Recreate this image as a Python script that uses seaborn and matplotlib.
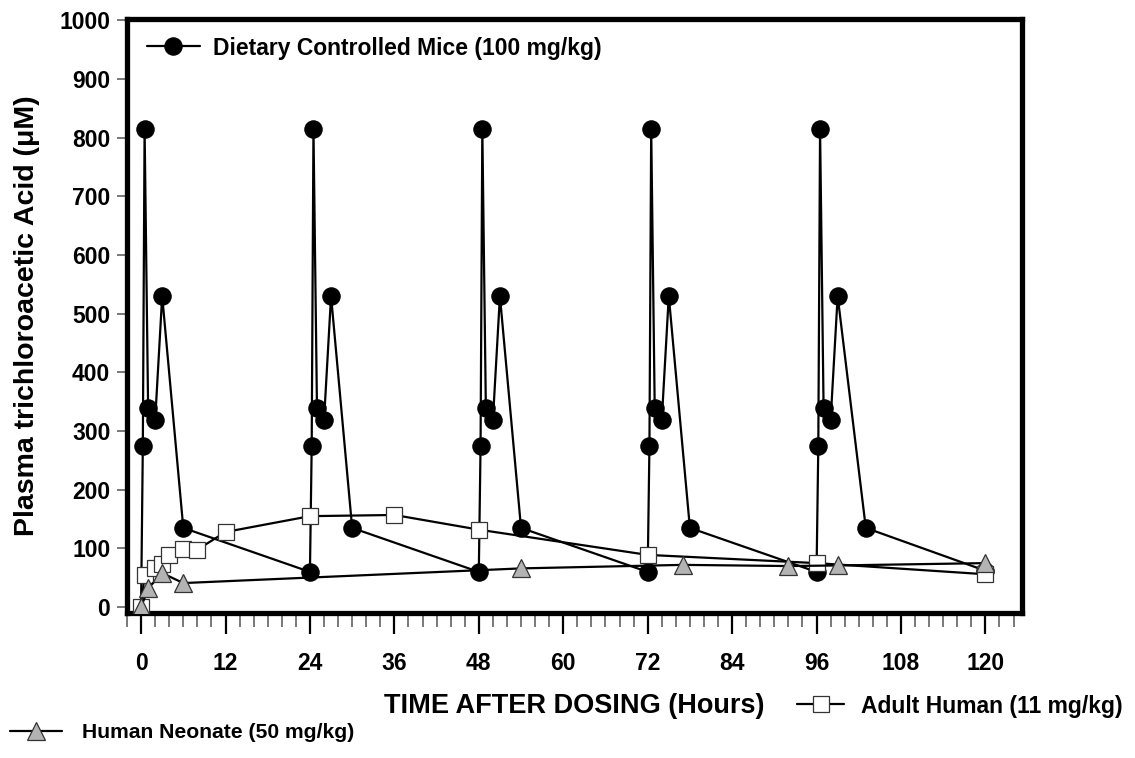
import matplotlib
matplotlib.use("Agg")
import matplotlib.pyplot as plt
import seaborn as sns
import pandas as pd
from matplotlib.ticker import MultipleLocator

# Plasma TCA time courses (hours, µM)
mouse_time = [0, 0.25, 0.5, 1, 2, 3, 6,
              24, 24.25, 24.5, 25, 26, 27, 30,
              48, 48.25, 48.5, 49, 50, 51, 54,
              72, 72.25, 72.5, 73, 74, 75, 78,
              96, 96.25, 96.5, 97, 98, 99, 103,
              120]
mouse_tca = [0, 275, 815, 340, 318, 530, 135,
             60, 275, 815, 340, 318, 530, 135,
             60, 275, 815, 340, 318, 530, 135,
             60, 275, 815, 340, 318, 530, 135,
             60, 275, 815, 340, 318, 530, 135,
             62]

adult_time = [0, 0.5, 2, 3, 4, 6, 8, 12, 24, 36, 48, 72, 96, 120]
adult_tca = [0, 55, 66, 73, 89, 99, 98, 128, 155, 157, 132, 89, 75, 56]

neonate_time = [0, 1, 3, 6, 54, 77, 92, 99, 120]
neonate_tca = [0, 32, 58, 41, 66, 72, 70, 71, 75]

mouse_label = "Dietary Controlled Mice (100 mg/kg)"
neonate_label = "Human Neonate (50 mg/kg)"
adult_label = "Adult Human (11 mg/kg)"

sns.set_theme(style="white")
plt.rcParams["font.family"] = ["Liberation Sans", "DejaVu Sans"]
plt.rcParams["font.weight"] = "bold"
plt.rcParams["text.color"] = "black"
plt.rcParams["axes.labelcolor"] = "black"
plt.rcParams["xtick.labelcolor"] = "black"
plt.rcParams["ytick.labelcolor"] = "black"

mice = pd.DataFrame({"t": mouse_time, "v": mouse_tca})
adult = pd.DataFrame({"t": adult_time, "v": adult_tca})
neonate = pd.DataFrame({"t": neonate_time, "v": neonate_tca})

fig = plt.figure(figsize=(11.35, 7.58), dpi=100)
ax = fig.add_axes([127 / 1135, 1 - 613 / 758, (1022 - 127) / 1135, (613 - 19) / 758])

lw = 1.6
sns.lineplot(data=mice, x="t", y="v", ax=ax, estimator=None, sort=False,
             color="black", linewidth=lw, marker="o", markersize=12.5,
             markerfacecolor="black", markeredgecolor="black",
             markeredgewidth=0.8, markevery=list(range(1, len(mouse_time))),
             zorder=3)
mice_line = ax.lines[-1]
sns.lineplot(data=adult, x="t", y="v", ax=ax, estimator=None, sort=False,
             color="black", linewidth=lw, marker="s", markersize=11,
             markerfacecolor="white", markeredgecolor="#333333",
             markeredgewidth=0.9, zorder=4)
adult_line = ax.lines[-1]
sns.lineplot(data=neonate, x="t", y="v", ax=ax, estimator=None, sort=False,
             color="black", linewidth=lw, marker="^", markersize=12.5,
             markerfacecolor="#b3b3b3", markeredgecolor="#333333",
             markeredgewidth=0.9, zorder=5)
neonate_line = ax.lines[-1]

ax.set_xlim(-2, 125.2)
ax.set_ylim(-10, 1002)

ax.xaxis.set_major_locator(MultipleLocator(12))
ax.xaxis.set_minor_locator(MultipleLocator(2))
ax.yaxis.set_major_locator(MultipleLocator(100))

for s in ax.spines.values():
    s.set_visible(True)
    s.set_color("black")
    s.set_linewidth(3.8)

tick_size = 16.5
ax.tick_params(axis="x", which="major", direction="out", length=15, width=1.6,
               color="black", labelcolor="black", pad=13, labelsize=tick_size,
               bottom=True)
ax.tick_params(axis="x", which="minor", direction="out", length=10, width=1.1,
               color="#555555", bottom=True)
ax.tick_params(axis="y", which="major", direction="out", length=7, width=1.1,
               color="#555555", labelcolor="black", pad=5, labelsize=tick_size,
               left=True)
for lab in ax.get_xticklabels() + ax.get_yticklabels():
    lab.set_fontweight("bold")

ax.set_xlabel("TIME AFTER DOSING (Hours)", fontsize=19.5, fontweight="bold",
              labelpad=13, color="black")
ax.set_ylabel("Plasma trichloroacetic Acid (\u03bcM)", fontsize=20.5,
              fontweight="bold", labelpad=14, color="black")

leg_kw = dict(frameon=False, borderpad=0, borderaxespad=0, labelcolor="black")

leg1 = fig.legend([mice_line], [mouse_label], loc="center left",
                  bbox_to_anchor=(147 / 1135, 1 - 48 / 758),
                  handlelength=2.3, handletextpad=0.56,
                  prop={"weight": "bold", "size": 16.5}, **leg_kw)
leg2 = fig.legend([neonate_line], [neonate_label], loc="center left",
                  bbox_to_anchor=(10 / 1135, 1 - 733 / 758),
                  handlelength=2.46, handletextpad=0.95,
                  prop={"weight": "bold", "size": 15.2}, **leg_kw)
leg3 = fig.legend([adult_line], [adult_label], loc="center left",
                  bbox_to_anchor=(797 / 1135, 1 - 706 / 758),
                  handlelength=2.07, handletextpad=0.73,
                  prop={"weight": "bold", "size": 16.5}, **leg_kw)

fig.savefig("out.png", dpi=100)
